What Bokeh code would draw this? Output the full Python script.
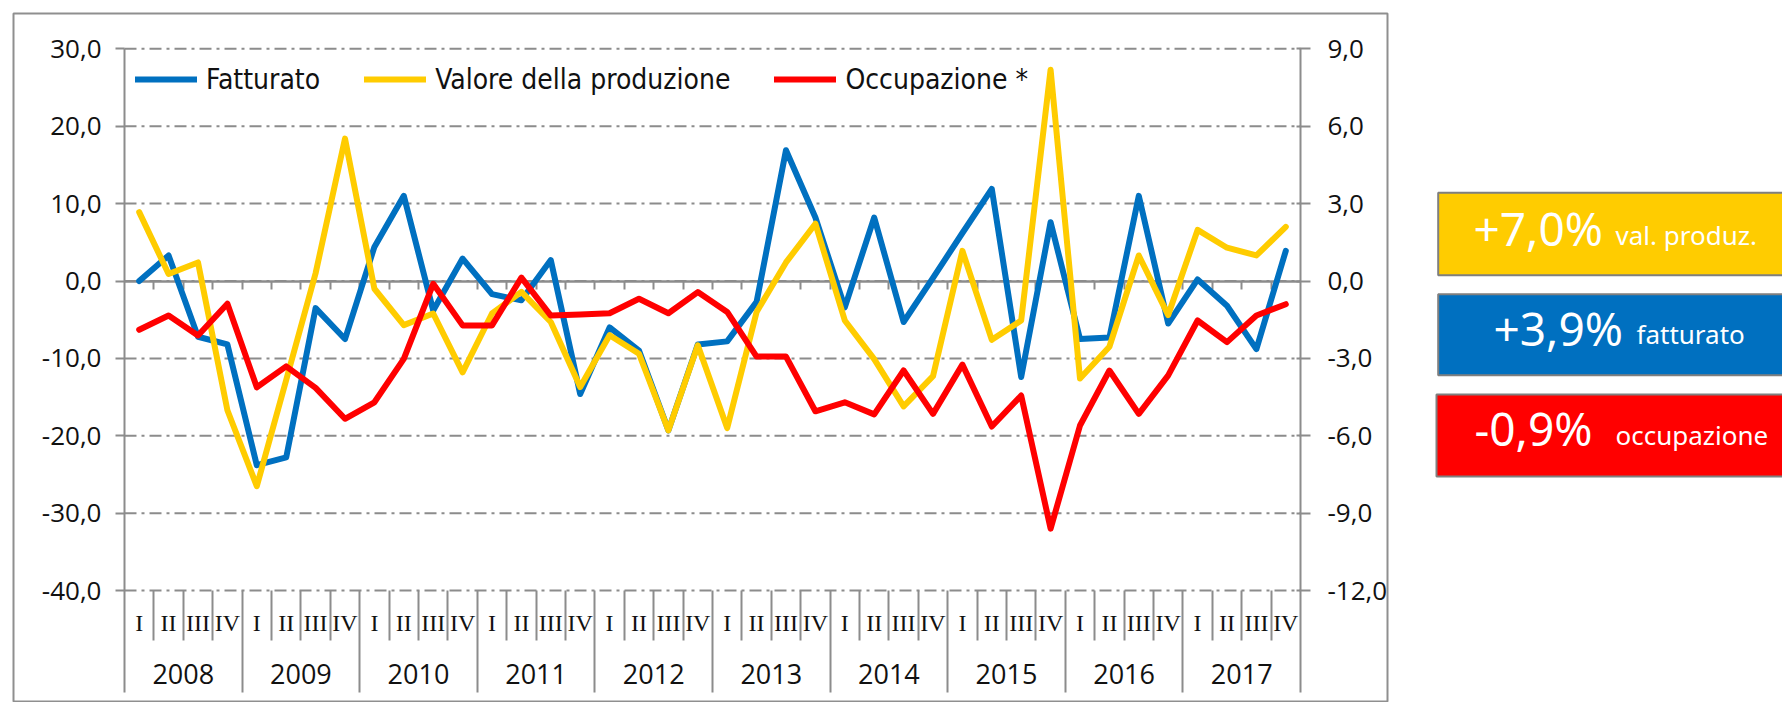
from bokeh.plotting import figure
from bokeh.layouts import row
from bokeh.models import Range1d, LinearAxis, FixedTicker, Legend, LegendItem
from bokeh.core.properties import value
from bokeh.embed import file_html
from bokeh.resources import INLINE

# ---------------- data ----------------
years = ["2008", "2009", "2010", "2011", "2012", "2013", "2014", "2015", "2016", "2017"]
quarters = ["I", "II", "III", "IV"]

fatturato = [0.0, 3.3, -7.2, -8.2, -23.8, -22.8, -3.5, -7.5, 4.4, 11.0,
             -3.8, 2.9, -1.7, -2.5, 2.7, -14.6, -6.0, -9.0, -19.3, -8.2,
             -7.8, -2.7, 16.9, 8.2, -3.4, 8.2, -5.3, 0.4, 6.2, 11.9,
             -12.4, 7.6, -7.5, -7.3, 11.0, -5.5, 0.2, -3.2, -8.8, 3.9]

valore_produzione = [8.9, 0.9, 2.4, -16.7, -26.5, -12.8, 1.0, 18.4, -1.0, -5.7,
                     -4.2, -11.8, -4.2, -1.4, -5.3, -13.7, -7.0, -9.4, -19.3, -8.3,
                     -19.0, -4.0, 2.4, 7.4, -5.1, -10.1, -16.2, -12.3, 3.9, -7.6,
                     -5.1, 27.3, -12.6, -8.5, 3.3, -4.4, 6.6, 4.3, 3.3, 7.0]

occupazione = [-1.89, -1.34, -2.11, -0.88, -4.12, -3.31, -4.14, -5.34, -4.70, -3.02,
               -0.11, -1.72, -1.72, 0.13, -1.34, -1.30, -1.25, -0.69, -1.25, -0.43,
               -1.20, -2.93, -2.93, -5.05, -4.70, -5.17, -3.47, -5.15, -3.24, -5.64,
               -4.44, -9.60, -5.60, -3.47, -5.15, -3.66, -1.53, -2.37, -1.34, -0.90]

series_names = ["Fatturato", "Valore della produzione", "Occupazione *"]
left_ticks = [30, 20, 10, 0, -10, -20, -30, -40]
right_ticks = [9, 6, 3, 0, -3, -6, -9, -12]

box_values = ["+7,0%", "+3,9%", "-0,9%"]
box_labels = ["val. produz.", "fatturato", "occupazione"]

# ---------------- style / layout ----------------
BLUE = "#0070C0"
YELLOW = "#FFCC00"
RED = "#FF0000"
GREY = "#8C8C8C"
TXT = "#111111"
box_colors = [YELLOW, BLUE, RED]

categories = [(y, q) for y in years for q in quarters]
n = len(categories)
nq = len(quarters)
x = [i + 0.5 for i in range(n)]
inner_bounds = list(range(1, n))
year_bounds = list(range(nq, n, nq))
quarter_bounds = [b for b in inner_bounds if b % nq != 0]
year_centers = [k * nq + nq / 2 for k in range(len(years))]

YMAX = left_ticks[0]
YMIN = left_ticks[-1]
RATIO = right_ticks[0] / left_ticks[0]

# pixel geometry of the chart (main figure canvas)
MAIN_W, H = 1392, 702
FR_L, FR_R, FR_T, FR_B = 13, 1387, 13, 702        # chart border box
PA_L, PA_R = 124, 1300                             # plot area left/right
PY_TOP, PY_BOT = 48.3, 590.1                       # pixel of YMAX / YMIN
SEP_BOT = 691.7                                    # bottom of year separators
px_x = (PA_R - PA_L) / n
px_y = (PY_BOT - PY_TOP) / (YMAX - YMIN)
XL = -(PA_L - FR_L) / px_x
XR = n + (FR_R - PA_R) / px_x
YT = YMAX + (PY_TOP - FR_T) / px_y
YB = YMIN - (FR_B - PY_BOT) / px_y
Y_LINE_BOT = YMIN - (SEP_BOT - PY_BOT) / px_y


def fmt(t):
    return ("%.1f" % t).replace(".", ",")


p = figure(width=MAIN_W, height=H, output_backend="svg", toolbar_location=None,
           x_range=Range1d(XL, XR), y_range=Range1d(YB, YT),
           x_axis_type=None, y_axis_type=None,
           min_border_left=FR_L, min_border_right=MAIN_W - FR_R,
           min_border_top=FR_T, min_border_bottom=H - FR_B)
p.extra_y_ranges = {"occ": Range1d(YB * RATIO, YT * RATIO)}
p.outline_line_color = "#8F8F8F"
p.outline_line_width = 2
p.background_fill_color = "white"
p.border_fill_color = "white"

# dash-dot horizontal grid lines between the two value axes
k = len(left_ticks)
p.segment(x0=[0] * k, y0=left_ticks, x1=[n] * k, y1=left_ticks,
          line_color=GREY, line_width=2, line_dash="12 5 3 5", level="underlay")

TICK_FONT = "Open Sans"
TICK_SIZE = "26px"


def style_value_axis(ax, ticks, tick_in, tick_out, standoff):
    ax.ticker = FixedTicker(ticks=ticks)
    ax.major_label_overrides = {t: fmt(t) for t in ticks}
    ax.axis_line_color = GREY
    ax.axis_line_width = 2
    ax.major_tick_line_color = GREY
    ax.major_tick_line_width = 2
    ax.major_tick_out = tick_out
    ax.major_tick_in = tick_in
    ax.minor_tick_line_color = None
    ax.major_label_standoff = standoff
    ax.major_label_text_font = TICK_FONT
    ax.major_label_text_font_size = TICK_SIZE
    ax.major_label_text_color = TXT


lax = LinearAxis(fixed_location=0, bounds=(Y_LINE_BOT, YMAX))
style_value_axis(lax, left_ticks, 0, 9, 14)
p.add_layout(lax, "left")

rax = LinearAxis(y_range_name="occ", fixed_location=n,
                 bounds=(Y_LINE_BOT * RATIO, YMAX * RATIO))
style_value_axis(rax, right_ticks, 4, 10, 17)
rax.major_label_text_color = None          # labels drawn left-aligned below
p.add_layout(rax, "right")

# left-aligned labels of the right (occupazione) axis, at its tick values
p.text(x=[n] * len(right_ticks), y=right_ticks, text=[fmt(t) for t in right_ticks],
       y_range_name="occ", x_offset=27, text_align="left", text_baseline="middle",
       text_font=value(TICK_FONT), text_font_size=TICK_SIZE, text_color=TXT)

# category axis crossing at zero, ticks between quarters
zax = LinearAxis(ticker=FixedTicker(ticks=inner_bounds), fixed_location=0, bounds=(0, n))
zax.axis_line_color = GREY
zax.axis_line_width = 2.5
zax.major_tick_line_color = GREY
zax.major_tick_line_width = 2
zax.major_tick_out = 8
zax.major_tick_in = 0
zax.minor_tick_line_color = None
zax.major_label_text_color = None
zax.level = "underlay"
p.add_layout(zax, "below")


def separator_axis(ticks, length):
    ax = LinearAxis(ticker=FixedTicker(ticks=ticks), fixed_location=YMIN)
    ax.axis_line_color = None
    ax.major_tick_line_color = GREY
    ax.major_tick_line_width = 2
    ax.major_tick_out = int(round(length))
    ax.major_tick_in = 0
    ax.minor_tick_line_color = None
    ax.major_label_text_color = None
    return ax


p.add_layout(separator_axis(quarter_bounds, 50), "below")
p.add_layout(separator_axis(year_bounds, SEP_BOT - PY_BOT), "below")


def label_axis(ticks, labels, font, size, standoff):
    ax = LinearAxis(ticker=FixedTicker(ticks=ticks), fixed_location=YMIN)
    ax.major_label_overrides = {t: s for t, s in zip(ticks, labels)}
    ax.axis_line_color = None
    ax.major_tick_line_color = None
    ax.minor_tick_line_color = None
    ax.major_tick_out = 0
    ax.major_tick_in = 0
    ax.major_label_standoff = standoff
    ax.major_label_text_font = font
    ax.major_label_text_font_size = size
    ax.major_label_text_color = TXT
    return ax


p.add_layout(label_axis(x, [c[1] for c in categories], "Liberation Serif", "24px", 19), "below")
p.add_layout(label_axis(year_centers, years, TICK_FONT, "27px", 73), "below")

LW = 6
r_f = p.line(x, fatturato, line_color=BLUE, line_width=LW, line_join="round", line_cap="round")
r_v = p.line(x, valore_produzione, line_color=YELLOW, line_width=LW, line_join="round", line_cap="round")
r_o = p.line(x, occupazione, line_color=RED, line_width=LW, line_join="round", line_cap="round",
             y_range_name="occ")

LEG_H = 40
legend = Legend(items=[LegendItem(label=series_names[0], renderers=[r_f]),
                       LegendItem(label=series_names[1], renderers=[r_v]),
                       LegendItem(label=series_names[2], renderers=[r_o])],
                location=(135 - FR_L, FR_B - (79.3 - LEG_H / 2) - LEG_H),
                orientation="horizontal")
legend.margin = 0
legend.padding = 0
legend.spacing = 44
legend.glyph_width = 62
legend.glyph_height = LEG_H
legend.label_height = LEG_H
legend.label_standoff = 9
legend.label_text_font = "DejaVu Sans Condensed"
legend.label_text_font_size = "28px"
legend.label_text_color = TXT
legend.border_line_color = None
legend.background_fill_alpha = 0
p.add_layout(legend)

# ---------------- side panel with the summary boxes ----------------
SIDE_W = 1782 - MAIN_W
side = figure(width=SIDE_W, height=H, output_backend="svg", toolbar_location=None,
              x_range=Range1d(0, SIDE_W), y_range=Range1d(H, 0),
              x_axis_type=None, y_axis_type=None,
              min_border_left=0, min_border_right=0, min_border_top=0, min_border_bottom=0)
side.outline_line_color = None
side.background_fill_color = "white"
side.border_fill_color = "white"

DY = -4
box_left = [1437.7 - MAIN_W, 1437.7 - MAIN_W, 1436.0 - MAIN_W]
box_top = [186.7 + DY, 290.0 + DY, 392.3 + DY]
box_bottom = [270.7 + DY, 372.7 + DY, 475.7 + DY]
value_x = [1473 - MAIN_W, 1493 - MAIN_W, 1474 - MAIN_W]
label_x = [1615 - MAIN_W, 1636 - MAIN_W, 1615 - MAIN_W]
baseline = [245 + DY, 346 + DY, 448 + DY]
value_y = [b - 22 for b in baseline]
label_y = [b - 15 for b in baseline]

side.quad(left=box_left, right=[SIDE_W + 20] * 3, top=box_top, bottom=box_bottom,
          fill_color=box_colors, line_color="#7F7F7F", line_width=2)
side.text(x=value_x, y=value_y, text=box_values, text_font=value("Noto Sans"),
          text_font_size="46px", text_color="white", text_baseline="alphabetic",
          text_align="left")
side.text(x=label_x, y=label_y, text=box_labels, text_font=value("Noto Sans"),
          text_font_size="26px", text_color="white", text_baseline="alphabetic",
          text_align="left")

layout = row(p, side)
open("out.html", "w").write(file_html(layout, INLINE))
